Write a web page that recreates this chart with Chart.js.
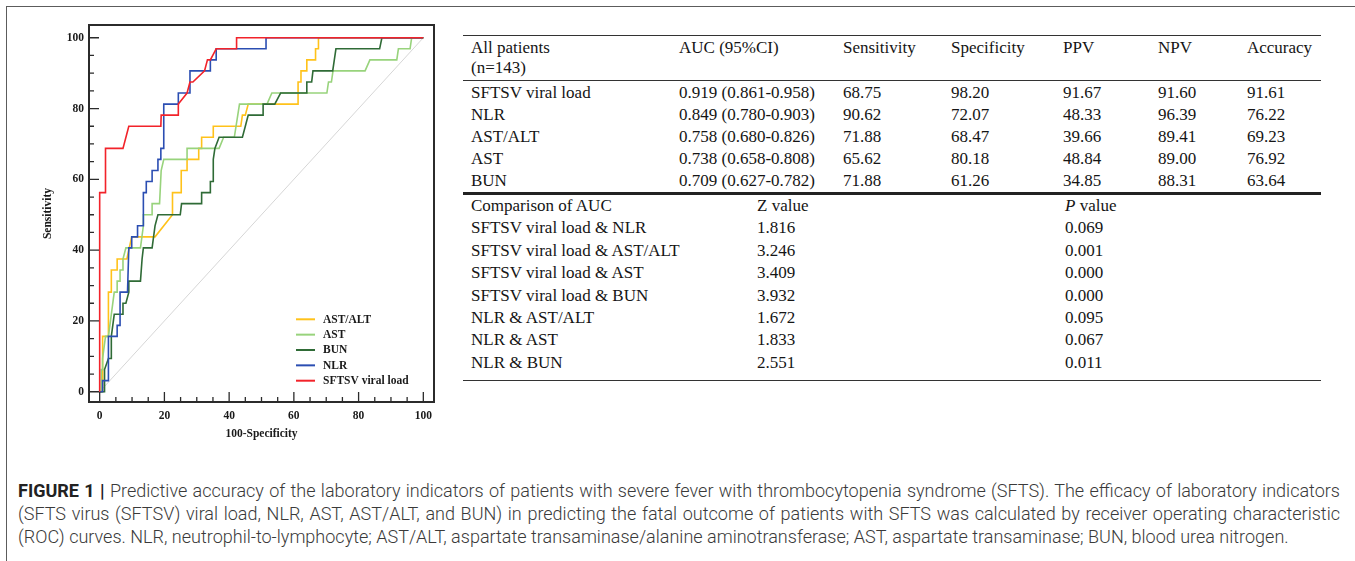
<!DOCTYPE html>
<html>
<head>
<meta charset="utf-8">
<script src="https://cdn.jsdelivr.net/npm/chart.js@4.4.1/dist/chart.umd.min.js"></script>
<style>
  body { margin: 0; background: #fff; width: 1355px; height: 561px; overflow: hidden; position: relative; }
  #frame { position: absolute; left: 6px; top: 6px; right: -2px; bottom: -2px;
           border-top: 1.5px solid #5c5c5c; border-left: 1.5px solid #5c5c5c; }
  #roc { position: absolute; left: 0; top: 0; width: 455px; height: 450px; }
  table { position: absolute; left: 463px; width: 858px; table-layout: fixed;
          border-collapse: separate; border-spacing: 0;
          font-family: "Liberation Serif", "Times New Roman", serif; font-size: 17px; color: #151515; }
  td { padding: 0 0 0 8px; white-space: nowrap; vertical-align: top; }
  #stats { top: 35px; }
  #stats tr.head td { border-top: 1px solid #333; border-bottom: 1px solid #333; padding-top: 2px; padding-bottom: 2px; line-height: 20px; }
  #stats tr.row td { line-height: 22px; }
  #stats tr.first td { padding-top: 1px; }
  #stats tr.last td { border-bottom: 3px solid #222; }
  #cmp { top: 195px; }
  #cmp td { line-height: 22.4px; }
  #cmp tr.last td { padding-bottom: 6px; border-bottom: 1px solid #333; }
  #caption { position: absolute; left: 18px; top: 479px; width: 1322px;
             font-family: Roboto, "Liberation Sans", sans-serif; font-weight: 300; color: #3a3a3a; line-height: 23px; }
  #caption div { white-space: nowrap; }
  #caption .j { text-align: justify; text-align-last: justify; }
  #caption b { font-weight: 700; color: #222; }
</style>
</head>
<body>
<div id="frame"></div>
<div id="roc"><canvas id="rocChart"></canvas></div>

<table id="stats">
  <colgroup><col style="width:208px"><col style="width:164px"><col style="width:108px"><col style="width:112px"><col style="width:95px"><col style="width:89px"><col style="width:82px"></colgroup>
  <tbody id="statsBody"></tbody>
</table>

<table id="cmp">
  <colgroup><col style="width:286px"><col style="width:308px"><col style="width:264px"></colgroup>
  <tbody id="cmpBody"></tbody>
</table>

<div id="caption">
  <div class="j" id="cap1"><b>FIGURE 1 |</b> Predictive accuracy of the laboratory indicators of patients with severe fever with thrombocytopenia syndrome (SFTS). The efficacy of laboratory indicators</div>
  <div class="j" id="cap2">(SFTS virus (SFTSV) viral load, NLR, AST, AST/ALT, and BUN) in predicting the fatal outcome of patients with SFTS was calculated by receiver operating characteristic</div>
  <div id="cap3">(ROC) curves. NLR, neutrophil-to-lymphocyte; AST/ALT, aspartate transaminase/alanine aminotransferase; AST, aspartate transaminase; BUN, blood urea nitrogen.</div>
</div>

<script>
// axis ticks
const xTicks = [0, 20, 40, 60, 80, 100];
const yTicks = [0, 20, 40, 60, 80, 100];

// ROC curves, [100-specificity, sensitivity]
const seriesNames = ['AST/ALT', 'AST', 'BUN', 'NLR', 'SFTSV viral load'];

const astAltPts = [[0,0],[0.9,0],[0.9,15.63],[2.7,15.63],[2.7,28.13],[3.6,28.13],[3.6,34.38],[5.4,34.38],[5.4,37.5],
  [8.4,37.5],[9.9,43.75],[17.1,43.75],[22.5,50],[22.5,56.25],[25.2,56.25],[25.2,62.5],[27.0,62.5],[27.0,65.63],
  [30.6,65.63],[30.6,68.75],[31.5,68.75],[31.5,71.88],[35.1,71.88],[35.1,75],[43.6,75],[44.1,78.13],[45.0,78.13],
  [45.9,81.25],[61.3,81.25],[61.3,87.5],[62.2,87.5],[62.2,90.63],[64.0,90.63],[64.0,93.75],[66.7,93.75],[66.7,96.88],
  [67.6,96.88],[67.6,100],[100,100]];

const astPts = [[0,0],[0.5,0],[0.5,6.25],[0.9,6.25],[0.9,9.38],[1.8,15.63],[2.7,15.63],[3.6,21.88],[4.5,28.13],[5.4,28.13],
  [5.4,31.25],[6.3,31.25],[6.3,34.38],[7.2,34.38],[7.2,37.5],[8.1,40.63],[12.6,40.63],[13.5,46.88],[13.5,50],[16.2,50],
  [16.2,53.13],[18.5,53.13],[19.0,62.5],[19.8,65.63],[27.0,65.63],[27.0,68.75],[36.9,68.75],[38.3,71.88],[41.6,71.88],
  [43.2,81.25],[51.7,81.25],[53.2,84.38],[70.2,84.38],[70.7,87.5],[71.6,87.5],[72.1,90.63],[82.0,90.63],[83.5,93.75],
  [91.8,93.75],[92.3,96.88],[95.9,96.88],[96.4,100],[100,100]];

const bunPts = [[0,0],[1.5,0],[1.5,6.25],[2.7,9.38],[3.6,9.38],[3.6,15.63],[4.5,21.88],[7.2,21.88],[7.2,25],[8.1,25],
  [9.0,28.13],[9.0,31.25],[12.6,31.25],[13.1,37.5],[13.5,40.63],[16.2,40.63],[17.1,46.88],[18.0,50],[24.9,50],
  [25.3,53.13],[31.5,53.13],[31.5,56.25],[34.2,56.25],[34.2,59.38],[35.1,59.38],[35.1,65.63],[35.6,68.75],[36.9,71.88],
  [44.1,71.88],[45.0,75],[45.9,78.13],[50.5,78.13],[50.5,81.25],[54.1,81.25],[55.9,84.38],[64.0,84.38],[64.0,87.5],
  [65.5,87.5],[65.9,90.63],[72.0,90.63],[72.5,93.75],[73.0,96.88],[86.5,96.88],[87.2,100],[100,100]];

const nlrPts = [[0,0],[0.9,0],[0.9,3.13],[2.7,3.13],[2.7,15.63],[5.4,15.63],[5.4,18.75],[6.3,18.75],[6.3,28.13],
  [8.6,28.13],[9.0,40.63],[9.9,40.63],[9.9,43.75],[11.7,43.75],[11.7,46.88],[13.5,46.88],[13.5,56.25],[14.4,56.25],
  [14.4,59.38],[16.2,59.38],[16.2,62.5],[18.0,62.5],[18.0,65.63],[18.9,65.63],[18.9,68.75],[19.8,68.75],[19.8,81.25],
  [24.3,81.25],[24.3,84.38],[27.9,84.38],[27.9,90.63],[34.2,90.63],[34.2,93.75],[36.0,93.75],[36.0,96.88],
  [51.4,96.88],[51.4,100],[100,100]];

const viralPts = [[0,0],[0,56.25],[1.8,56.25],[1.8,68.75],[7.2,68.75],[9.0,75],[18.9,75],[19.0,78.13],[24.3,78.13],
  [24.3,81.25],[27.0,84.38],[27.9,87.5],[28.8,87.5],[32.4,90.63],[33.3,93.75],[34.2,93.75],[36.0,96.88],[42.3,96.88],
  [42.3,100],[100,100]];

const refLine = [[0,0],[100,100]];

// table values
const statHeader = ['AUC (95%CI)', 'Sensitivity', 'Specificity', 'PPV', 'NPV', 'Accuracy'];
const statRows = ['SFTSV viral load', 'NLR', 'AST/ALT', 'AST', 'BUN'];
const aucCI = ['0.919 (0.861-0.958)', '0.849 (0.780-0.903)', '0.758 (0.680-0.826)', '0.738 (0.658-0.808)', '0.709 (0.627-0.782)'];
const sensitivity = ['68.75', '90.62', '71.88', '65.62', '71.88'];
const specificity = ['98.20', '72.07', '68.47', '80.18', '61.26'];
const ppv = ['91.67', '48.33', '39.66', '48.84', '34.85'];
const npv = ['91.60', '96.39', '89.41', '89.00', '88.31'];
const accuracy = ['91.61', '76.22', '69.23', '76.92', '63.64'];

const cmpPairs = ['SFTSV viral load &amp; NLR', 'SFTSV viral load &amp; AST/ALT', 'SFTSV viral load &amp; AST',
  'SFTSV viral load &amp; BUN', 'NLR &amp; AST/ALT', 'NLR &amp; AST', 'NLR &amp; BUN'];
const zValues = ['1.816', '3.246', '3.409', '3.932', '1.672', '1.833', '2.551'];
const pValues = ['0.069', '0.001', '0.000', '0.000', '0.095', '0.067', '0.011'];

// build tables
let html = '<tr class="head"><td>All patients<br>(n=143)</td>' + statHeader.map(h => '<td>' + h + '</td>').join('') + '</tr>';
statRows.forEach((name, i) => {
  let cls = 'row' + (i === 0 ? ' first' : '') + (i === statRows.length - 1 ? ' last' : '');
  html += '<tr class="' + cls + '"><td>' + name + '</td><td>' + aucCI[i] + '</td><td>' + sensitivity[i] + '</td><td>' +
    specificity[i] + '</td><td>' + ppv[i] + '</td><td>' + npv[i] + '</td><td>' + accuracy[i] + '</td></tr>';
});
document.getElementById('statsBody').innerHTML = html;

html = '<tr><td>Comparison of AUC</td><td>Z value</td><td><i>P</i> value</td></tr>';
cmpPairs.forEach((p, i) => {
  html += '<tr' + (i === cmpPairs.length - 1 ? ' class="last"' : '') + '><td>' + p + '</td><td>' + zValues[i] + '</td><td>' + pValues[i] + '</td></tr>';
});
document.getElementById('cmpBody').innerHTML = html;

// fit caption lines to the width
(function fitCaption() {
  const cap = document.getElementById('caption');
  cap.style.fontSize = '16px';
  const widths = ['cap1', 'cap2', 'cap3'].map(id => {
    const el = document.getElementById(id);
    const span = document.createElement('span');
    span.innerHTML = el.innerHTML;
    span.style.whiteSpace = 'nowrap';
    span.style.visibility = 'hidden';
    span.style.position = 'absolute';
    cap.appendChild(span);
    const w = span.getBoundingClientRect().width;
    cap.removeChild(span);
    return w;
  });
  const k = Math.min(1318 / widths[0], 1318 / widths[1], 1272 / widths[2]);
  cap.style.fontSize = (16 * k).toFixed(2) + 'px';
})();

// chart
const seriesColors = ['#ffc21a', '#98d37c', '#2f6b36', '#2b4eb2', '#f2232a'];
const seriesPts = [astAltPts, astPts, bunPts, nlrPts, viralPts];
const toXY = arr => arr.map(p => ({ x: p[0], y: p[1] }));

const datasets = seriesNames.map((name, i) => ({
  label: name,
  data: toXY(seriesPts[i]),
  borderColor: seriesColors[i],
  borderWidth: 1.6,
  pointRadius: 0,
  tension: 0,
  order: seriesNames.length - i
}));
datasets.push({
  label: 'reference',
  data: toXY(refLine),
  borderColor: '#d6d6d6',
  borderWidth: 1,
  pointRadius: 0,
  order: 10
});

const tickFont = { family: 'Liberation Serif', weight: 'bold', size: 11.5 };

const rocFrame = {
  id: 'rocFrame',
  afterDatasetsDraw(chart) {
    const { ctx, chartArea: a, scales: { x, y } } = chart;
    ctx.save();
    ctx.strokeStyle = '#2b2b2b';
    ctx.lineWidth = 2;
    ctx.strokeRect(a.left, a.top, a.right - a.left, a.bottom - a.top);

    // inward tick marks, long at labelled values
    ctx.lineWidth = 1.3;
    ctx.beginPath();
    for (let v = 0; v <= 100; v += 5) {
      const len = v % 20 === 0 ? 10 : 5;
      const px = x.getPixelForValue(v);
      ctx.moveTo(px, a.bottom);
      ctx.lineTo(px, a.bottom - len);
      const py = y.getPixelForValue(v);
      ctx.moveTo(a.left, py);
      ctx.lineTo(a.left + len, py);
    }
    ctx.stroke();

    // legend in the lower right corner
    ctx.font = 'bold 11.5px "Liberation Serif"';
    ctx.textBaseline = 'middle';
    ctx.fillStyle = '#1a1a1a';
    seriesNames.forEach((name, i) => {
      const ds = chart.data.datasets[i];
      const ly = a.bottom - 82.7 + i * 15.35;
      ctx.strokeStyle = ds.borderColor;
      ctx.lineWidth = 2;
      ctx.beginPath();
      ctx.moveTo(a.right - 138, ly);
      ctx.lineTo(a.right - 119, ly);
      ctx.stroke();
      ctx.fillText(name, a.right - 111, ly + 0.5);
    });
    ctx.restore();
  }
};

new Chart(document.getElementById('rocChart'), {
  type: 'line',
  data: { datasets },
  options: {
    responsive: true,
    maintainAspectRatio: false,
    animation: false,
    layout: { padding: { top: 25, right: 21, left: 0, bottom: 0 } },
    plugins: { legend: { display: false }, tooltip: { enabled: false } },
    scales: {
      x: {
        type: 'linear',
        min: -3.3,
        max: 103.3,
        afterBuildTicks: s => { s.ticks = xTicks.map(v => ({ value: v })); },
        afterFit: s => { s.height = 48; },
        grid: { display: false, drawTicks: false },
        border: { display: false },
        ticks: { color: '#1a1a1a', font: tickFont, padding: 7, maxRotation: 0 },
        title: { display: true, text: '100-Specificity', color: '#1a1a1a', font: tickFont, padding: { top: 0, bottom: 9 } }
      },
      y: {
        type: 'linear',
        min: -2.9,
        max: 103.6,
        afterBuildTicks: s => { s.ticks = yTicks.map(v => ({ value: v })); },
        afterFit: s => { s.width = 89; },
        grid: { display: false, drawTicks: false },
        border: { display: false },
        ticks: { color: '#1a1a1a', font: tickFont, padding: 5 },
        title: { display: true, text: 'Sensitivity', color: '#1a1a1a', font: tickFont, padding: { top: 41, bottom: 0 } }
      }
    }
  },
  plugins: [rocFrame]
});
</script>
</body>
</html>
